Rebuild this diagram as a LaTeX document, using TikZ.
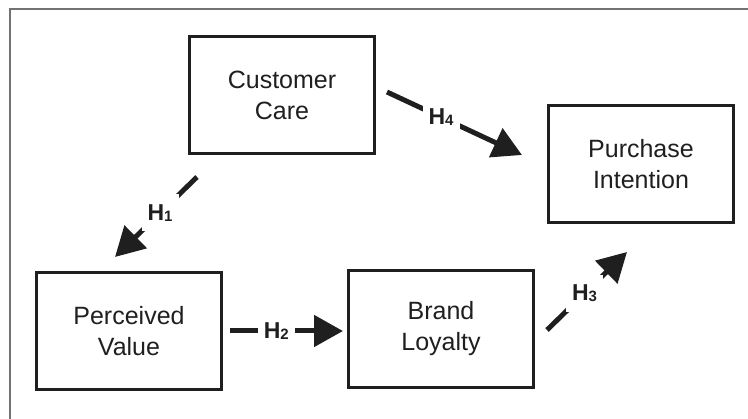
\documentclass[tikz,border=0pt]{standalone}
\usepackage{fontspec}
\setmainfont{Liberation Sans}
\usepackage{tikz}
\usetikzlibrary{arrows.meta}

\newcommand{\hyplabel}[1]{H\raisebox{-1pt}{\fontsize{15}{15}\selectfont #1}}

\begin{document}
\begin{tikzpicture}[
		%Global config
		x=1pt, y=-1pt,
		line width=1pt,
		color=black!88,
		%Styles
		Box/.style={
			draw,
			line width=3pt,
			minimum width=185pt,
			minimum height=117pt,
			align=center,
			font=\fontsize{25}{31}\selectfont,
		},
		Link/.style={
			line width=5pt,
			-{Triangle[length=29pt,width=31pt]},
		},
		Hyp/.style={
			fill=white,
			minimum width=37pt,
			minimum height=37pt,
			inner sep=0pt,
			font=\fontsize{23}{23}\selectfont\bfseries,
		},
		Frame/.style={
			draw=black!55,
			line width=1.5pt
		}
		]
		\useasboundingbox (0,0) rectangle (748,419);
		\draw[Frame] (10,419) -- (10,9) -- (748,9);

		% constructs
		\node[Box] (cc) at (282,95) {Customer\\Care};
		\node[Box] (pi) at (641,164) {Purchase\\Intention};
		\node[Box] (pv) at (129,331) {Perceived\\Value};
		\node[Box] (bl) at (441,329) {Brand\\Loyalty};

		% arrow ends
		\coordinate (h1a) at (197,177);
		\coordinate (h1b) at (115,257);
		\coordinate (h2a) at (230,331);
		\coordinate (h2b) at (343,331);
		\coordinate (h3a) at (547,330);
		\coordinate (h3b) at (627,252);
		\coordinate (h4a) at (387,92);
		\coordinate (h4b) at (522,155);

		% hypotheses
		\draw[Link] (h1a) -- (h1b) node[Hyp, pos=0.45] (h1) {\hyplabel{1}};
		\draw[Link] (h2a) -- (h2b) node[Hyp, pos=0.41] (h2) {\hyplabel{2}};
		\draw[Link] (h3a) -- (h3b) node[Hyp, pos=0.47] (h3) {\hyplabel{3}};
		\draw[Link] (h4a) -- (h4b) node[Hyp, pos=0.40] (h4) {\hyplabel{4}};
	\end{tikzpicture}
\end{document}
